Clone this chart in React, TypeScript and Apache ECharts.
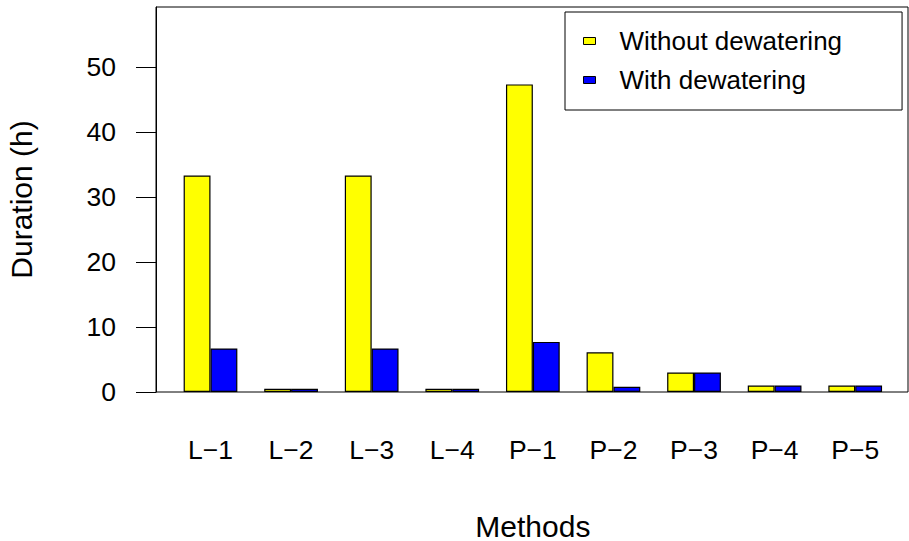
import React, { useEffect, useRef } from "react";
import * as echarts from "echarts";

const categories = ["L\u22121", "L\u22122", "L\u22123", "L\u22124", "P\u22121", "P\u22122", "P\u22123", "P\u22124", "P\u22125"];
const withoutDewatering = [33.3, 0.5, 33.3, 0.5, 47.3, 6.1, 3, 1, 1];
const withDewatering = [6.7, 0.5, 6.7, 0.5, 7.7, 0.8, 3, 1, 1];
const yTicks = [0, 10, 20, 30, 40, 50];
const seriesNames = ["Without dewatering", "With dewatering"];

const FONT = "'Liberation Sans', Arial, Helvetica, sans-serif";

export default function App() {
  const ref = useRef<HTMLDivElement>(null);
  useEffect(() => {
    if (!ref.current) return;
    const chart = echarts.init(ref.current, undefined, { renderer: "svg" });
    const yMax = 59.2;
    chart.setOption({
      animation: false,
      backgroundColor: "#fff",
      textStyle: { fontFamily: FONT },
      grid: [
        { left: 156, top: 7, right: 1, bottom: 149, show: true, borderColor: "#000", borderWidth: 1, backgroundColor: "transparent", outerBoundsMode: "none", containLabel: false },
        { left: 170.2, top: 7, width: 725.3, bottom: 149, outerBoundsMode: "none", containLabel: false },
      ],
      legend: {
        orient: "vertical",
        left: 565,
        top: 12,
        itemWidth: 12,
        itemHeight: 7,
        itemGap: 13,
        padding: [16, 60, 17, 18],
        borderColor: "#000",
        borderWidth: 1,
        icon: "rect",
        itemStyle: { borderColor: "#000", borderWidth: 1 },
        textStyle: { fontSize: 26, fontFamily: FONT, color: "#000", lineHeight: 26, padding: [0, 0, 0, 19] },
        data: seriesNames,
      },
      xAxis: [
        { type: "value", gridIndex: 0, show: false, min: 0, max: 1 },
        {
          type: "category",
          gridIndex: 1,
          data: categories,
          axisLine: { show: false },
          axisTick: { show: false },
          axisLabel: { fontSize: 26.5, fontFamily: FONT, color: "#000", margin: 45, lineHeight: 26.5 },
          name: "Methods",
          nameLocation: "middle",
          nameGap: 119,
          nameTextStyle: { fontSize: 30, fontFamily: FONT, color: "#000", lineHeight: 30 },
        },
      ],
      yAxis: [
        {
          type: "value",
          gridIndex: 0,
          min: 0,
          max: yMax,
          interval: 10,
          splitLine: { show: false },
          axisLine: { show: true, lineStyle: { color: "#000", width: 1 } },
          axisTick: { show: true, length: 20, lineStyle: { color: "#000", width: 1 }, customValues: yTicks },
          axisLabel: { fontSize: 26.5, fontFamily: FONT, color: "#000", margin: 40, customValues: yTicks },
          name: "Duration (h)",
          nameLocation: "middle",
          nameGap: 120,
          nameTextStyle: { fontSize: 30, fontFamily: FONT, color: "#000", lineHeight: 30 },
        },
        { type: "value", gridIndex: 1, min: 0, max: yMax, show: false },
      ],
      series: [
        {
          name: seriesNames[0],
          type: "bar",
          xAxisIndex: 1,
          yAxisIndex: 1,
          data: withoutDewatering,
          barGap: "0%",
          barCategoryGap: "33.33%",
          itemStyle: { color: "#FFFF00", borderColor: "#000", borderWidth: 1.2 },
        },
        {
          name: seriesNames[1],
          type: "bar",
          xAxisIndex: 1,
          yAxisIndex: 1,
          data: withDewatering,
          barGap: "0%",
          barCategoryGap: "33.33%",
          itemStyle: { color: "#0000FF", borderColor: "#000", borderWidth: 1.2 },
        },
      ],
    });
    return () => chart.dispose();
  }, []);
  return <div ref={ref} style={{ position: "fixed", left: 0, top: 0, width: 909, height: 541 }} />;
}
